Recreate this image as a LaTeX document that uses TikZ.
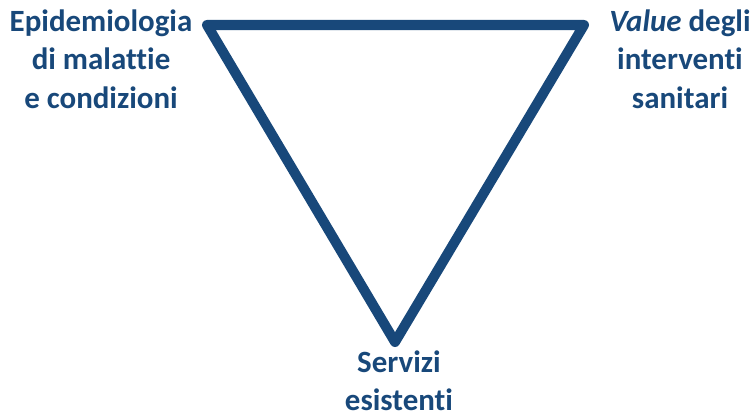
\documentclass[tikz,border=0pt]{standalone}
\usepackage{fontspec}
\setmainfont{Carlito}[Ligatures={NoCommon}]
\usepackage{tikz}
\usetikzlibrary{positioning}
\usepackage{xcolor}
\definecolor{mainblue}{RGB}{24, 72, 122}

\begin{document}
\begin{tikzpicture}[line width=5.7pt, line join=round]
    \useasboundingbox (0,0) rectangle (15.06,8.36);
    \tikzset{label text/.style={text=mainblue, font=\fontsize{17.6}{21.8}\selectfont\bfseries, align=center}}

    % vertici del triangolo
    \coordinate (Epi) at (4.14, 7.86);
    \coordinate (Val) at (11.68, 7.86);
    \coordinate (Ser) at (7.90, 1.52);

    % triangolo rovesciato
    \draw[mainblue] (Epi) -- (Val) -- (Ser) -- cycle;

    % testi
    \node[label text] (epitext) at (2.02, 7.18) {Epidemiologia\\di malattie\\e condizioni};
    \node[label text] (valtext) at (13.6, 7.18) {\textit{Value} degli\\interventi\\sanitari};
    \node[label text] (sertext) at (7.98, 0.74) {Servizi\\esistenti};

\end{tikzpicture}
\end{document}
